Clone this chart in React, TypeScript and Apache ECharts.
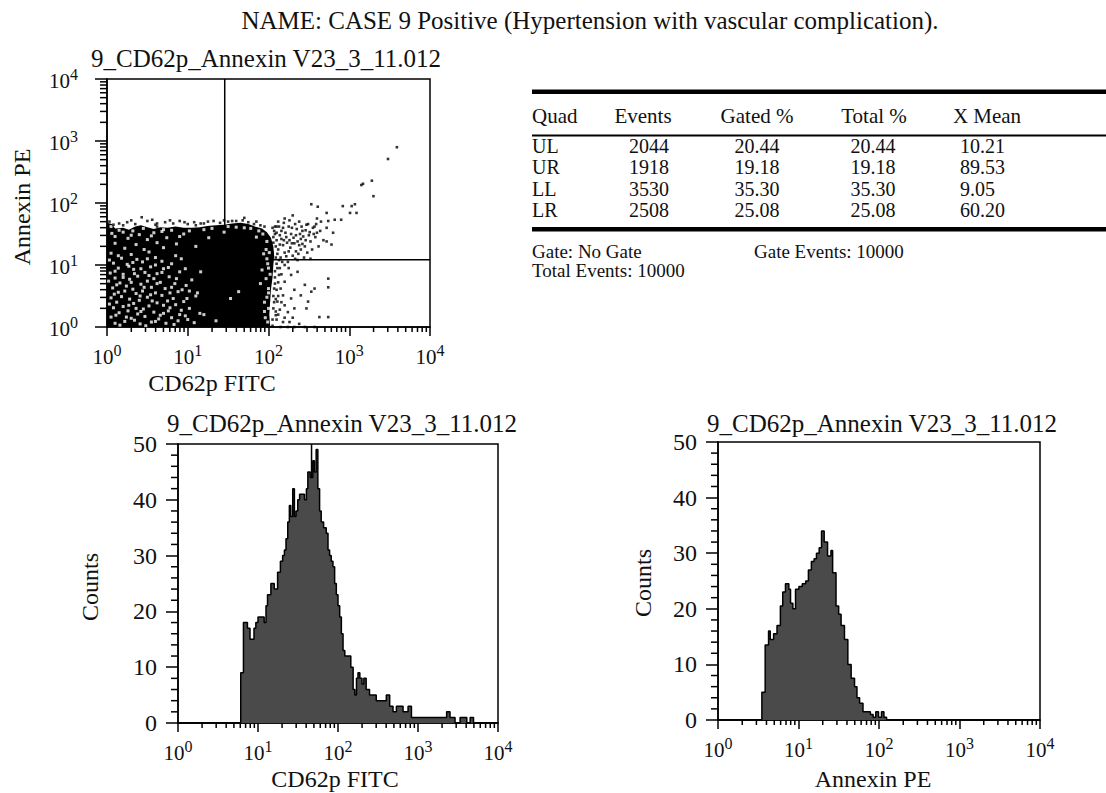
import React, { useEffect, useRef } from 'react';
import * as echarts from 'echarts';

const FONT = "'Liberation Serif', 'Times New Roman', serif";
const INK = '#111111';

const mainTitle = 'NAME: CASE 9 Positive (Hypertension with vascular complication).';
const panelTitle = '9_CD62p_Annexin V23_3_11.012';
const fitcName = 'CD62p FITC';
const peName = 'Annexin PE';
const countsName = 'Counts';

// log axes run over four decades, 10^0 .. 10^4
const decadeMin = 0;
const decadeMax = 4;
const countMax = 50;
const countStep = 10;
const countMinorStep = 2;

// quadrant gates (fluorescence intensity) and histogram marker
const quadrantGateX = 28.7;
const quadrantGateY = 12.1;
const histogramMarker = 46.7;

// statistics table
const tableHeaders = ['Quad', 'Events', 'Gated %', 'Total %', 'X Mean'];
const quadNames = ['UL', 'UR', 'LL', 'LR'];
const quadEvents = ['2044', '1918', '3530', '2508'];
const quadGated = ['20.44', '19.18', '35.30', '25.08'];
const quadTotal = ['20.44', '19.18', '35.30', '25.08'];
const quadXMean = ['10.21', '89.53', '9.05', '60.20'];
const gateText = 'Gate: No Gate';
const gateEventsText = 'Gate Events: 10000';
const totalEventsText = 'Total Events: 10000';

// dot plot: [log10 FITC, log10 PE]
const denseRegionOutline = [
  [0, 0], [0, 1.68], [0.06, 1.66], [0.1, 1.59], [0.2, 1.6], [0.27, 1.57], [0.35, 1.62],
  [0.42, 1.64], [0.5, 1.61], [0.58, 1.58], [0.66, 1.61], [0.75, 1.6], [0.85, 1.62],
  [0.95, 1.6], [1.05, 1.6], [1.15, 1.61], [1.24, 1.63], [1.35, 1.64], [1.45, 1.65],
  [1.55, 1.67], [1.65, 1.68], [1.75, 1.66], [1.83, 1.62], [1.92, 1.59], [1.98, 1.53],
  [2.03, 1.44], [2.06, 1.3], [2.07, 1.15], [2.06, 1.0], [2.05, 0.8], [2.03, 0.6],
  [2.02, 0.4], [2.01, 0.2], [2.02, 0.03], [2.03, 0],
];

const sparseEvents = [
  [0.03, 1.7], [0.15, 1.67], [0.25, 1.69], [0.35, 1.66], [0.43, 1.77], [0.5, 1.71], [0.56, 1.73],
  [0.62, 1.67], [0.72, 1.69], [0.82, 1.67], [0.9, 1.71], [1.0, 1.66], [1.08, 1.69], [1.16, 1.67],
  [1.25, 1.7], [1.32, 1.71], [1.4, 1.68], [1.5, 1.7], [1.6, 1.71], [1.68, 1.72], [1.75, 1.69],
  [1.82, 1.66], [1.9, 1.64], [0.2, 1.64], [0.62, 1.62], [1.1, 1.64],
  [0.08, 1.65], [0.3, 1.72], [0.6, 1.65], [0.78, 1.72], [0.96, 1.69], [1.2, 1.67], [1.45, 1.72],
  [1.55, 1.71], [1.85, 1.7], [1.95, 1.62], [1.7, 1.76],
  [2.08, 1.62], [2.12, 1.7], [2.16, 1.55], [2.2, 1.75], [2.22, 1.45], [2.25, 1.62], [2.28, 1.5],
  [2.3, 1.8], [2.32, 1.35], [2.35, 1.58], [2.38, 1.7], [2.4, 1.42], [2.42, 1.55], [2.45, 1.3],
  [2.47, 1.65], [2.5, 1.48], [2.52, 1.38], [2.55, 1.6], [2.58, 1.45], [2.6, 1.52], [2.62, 1.3],
  [2.65, 1.7], [2.68, 1.4], [2.1, 1.4], [2.12, 1.25], [2.15, 1.12], [2.18, 1.32], [2.2, 1.2],
  [2.24, 1.05], [2.27, 1.28], [2.3, 1.15], [2.34, 1.22], [2.36, 1.08], [2.4, 1.25], [2.44, 1.12],
  [2.48, 1.2], [2.52, 1.1], [2.14, 1.48], [2.18, 1.6], [2.26, 1.4], [2.34, 1.48], [2.38, 1.32],
  [2.46, 1.4], [2.54, 1.25], [2.57, 1.62], [2.6, 1.75], [2.64, 1.55], [2.72, 1.6], [2.74, 1.71],
  [2.8, 1.52], [2.82, 1.73], [2.78, 1.33], [2.72, 1.38], [2.1, 1.02], [2.06, 1.45],
  [2.05, 1.6], [2.1, 1.52], [2.13, 1.62], [2.16, 1.42], [2.19, 1.68], [2.21, 1.52], [2.23, 1.36],
  [2.26, 1.72], [2.29, 1.6], [2.31, 1.44], [2.33, 1.66], [2.36, 1.38], [2.39, 1.5], [2.41, 1.62],
  [2.43, 1.46], [2.46, 1.56], [2.49, 1.66], [2.51, 1.53], [2.56, 1.5], [2.59, 1.66], [2.11, 1.18],
  [2.14, 1.33], [2.17, 1.05], [2.19, 1.4], [2.22, 1.14], [2.25, 1.22], [2.29, 1.35], [2.33, 1.1],
  [2.37, 1.18], [2.42, 1.34], [2.13, 1.08], [2.08, 1.5], [2.1, 1.62], [2.05, 1.2],
  [2.07, 1.55], [2.09, 1.3], [2.11, 0.95], [2.08, 0.8], [2.1, 0.6], [2.07, 0.4], [2.09, 0.25],
  [2.08, 0.7], [2.12, 0.5], [2.06, 0.3], [2.14, 0.28], [2.1, 0.12], [2.05, 0.02],
  [2.06, 1.36], [2.09, 1.12], [2.08, 0.9], [2.07, 0.62], [2.06, 0.5], [2.09, 0.45], [2.05, 0.12],
  [2.12, 0.72], [2.14, 0.95], [2.16, 0.4], [2.12, 0.2], [2.2, 0.15], [2.26, 0.08], [2.3, 0.15],
  [2.38, 0.05], [2.2, 1.0], [2.16, 0.85],
  [2.13, 0.84], [2.2, 0.73], [2.28, 0.84], [2.36, 0.89], [2.45, 0.68], [2.18, 0.51], [2.11, 0.41],
  [2.09, 0.19], [2.18, 0.08], [2.24, 0.24], [2.2, 0.35], [2.28, 0.46], [2.4, 0.51], [2.32, 0.3],
  [2.47, 0.3], [2.49, 0.41], [2.53, 0.57], [2.57, 0.62], [2.74, 0.64], [2.74, 0.78], [2.63, 0.16],
  [2.74, 0.16], [2.24, 0.0], [2.32, 0.0], [2.45, 0.0], [2.57, 0.0], [2.15, 0.0], [2.15, 0.62],
  [2.25, 0.95], [2.32, 0.6],
  [2.53, 1.98], [2.61, 1.94], [2.72, 1.84], [2.92, 1.95], [3.03, 1.95], [3.07, 1.98], [3.01, 1.84],
  [3.09, 1.84], [2.9, 1.73], [3.15, 2.29], [3.17, 2.31], [3.28, 2.36], [3.3, 2.11], [3.48, 2.71],
  [3.59, 2.9],
];

const emptySpots = [
  [0.1, 0.06], [0.22, 0.09], [0.41, 0.05], [0.55, 0.08], [0.73, 0.06], [0.88, 0.1], [1.08, 0.07],
  [0.05, 0.16], [0.3, 0.14], [0.47, 0.17], [0.64, 0.13], [0.8, 0.15], [0.97, 0.18],
  [0.15, 0.23], [0.26, 0.26], [0.38, 0.21], [0.58, 0.24], [0.7, 0.22], [0.92, 0.27], [1.15, 0.22],
  [0.08, 0.31], [0.2, 0.33], [0.45, 0.29], [0.52, 0.34], [0.78, 0.31], [0.85, 0.36], [1.02, 0.3],
  [0.12, 0.4], [0.33, 0.38], [0.4, 0.43], [0.62, 0.39], [0.75, 0.42], [0.95, 0.41],
  [0.05, 0.47], [0.18, 0.49], [0.28, 0.45], [0.5, 0.48], [0.68, 0.51], [0.82, 0.46], [1.1, 0.5],
  [0.14, 0.56], [0.36, 0.54], [0.44, 0.58], [0.6, 0.55], [0.88, 0.57],
  [0.07, 0.63], [0.24, 0.66], [0.32, 0.61], [0.55, 0.64], [0.72, 0.62], [0.98, 0.67],
  [0.16, 0.71], [0.42, 0.69], [0.5, 0.74], [0.66, 0.72], [0.84, 0.7],
  [0.1, 0.79], [0.28, 0.77], [0.38, 0.82], [0.58, 0.78], [0.77, 0.81], [1.05, 0.76],
  [0.04, 0.87], [0.2, 0.85], [0.47, 0.88], [0.62, 0.86], [0.9, 0.89],
  [0.14, 0.95], [0.33, 0.93], [0.54, 0.97], [0.7, 0.94],
  [0.08, 1.03], [0.25, 1.01], [0.44, 1.05], [0.8, 1.02],
  [0.18, 1.11], [0.37, 1.09], [0.6, 1.12], [0.92, 1.1],
  [0.05, 1.19], [0.3, 1.17], [0.52, 1.21],
  [0.22, 1.27], [0.46, 1.25], [0.7, 1.28],
  [0.1, 1.35], [0.36, 1.33], [0.62, 1.36], [0.86, 1.34],
  [0.26, 1.43], [0.5, 1.41], [0.74, 1.44],
  [0.06, 1.51], [0.4, 1.49], [0.58, 1.52], [0.95, 1.5],
  [0.15, 1.56], [0.32, 1.55], [0.68, 1.54],
  [0.16, 0.03], [0.34, 0.11], [0.48, 0.02], [0.66, 0.19], [0.83, 0.04], [1.0, 0.12],
  [0.11, 0.19], [0.24, 0.16], [0.42, 0.25], [0.6, 0.09], [0.76, 0.26], [0.9, 0.2],
  [0.03, 0.37], [0.27, 0.35], [0.36, 0.3], [0.56, 0.42], [0.7, 0.35], [0.99, 0.46],
  [0.09, 0.53], [0.22, 0.58], [0.41, 0.5], [0.54, 0.52], [0.78, 0.55], [0.93, 0.6],
  [0.12, 0.68], [0.3, 0.72], [0.46, 0.64], [0.62, 0.7], [0.8, 0.64], [1.02, 0.58],
  [0.02, 0.74], [0.2, 0.8], [0.34, 0.86], [0.52, 0.83], [0.68, 0.88], [0.86, 0.78],
  [0.1, 0.9], [0.27, 0.98], [0.42, 0.94], [0.6, 1.0], [0.76, 0.96], [0.97, 0.94],
  [0.03, 1.08], [0.14, 1.15], [0.32, 1.04], [0.5, 1.1], [0.68, 1.06], [0.85, 1.15],
  [0.1, 1.46], [0.2, 1.53], [0.45, 1.59], [0.8, 1.56], [1.02, 1.55], [1.3, 1.59], [1.6, 1.61],
  [1.78, 1.59], [1.45, 1.53], [0.9, 1.46], [0.55, 1.47], [0.3, 1.48],
  [1.16, 0.89], [1.26, 1.44], [1.53, 0.46], [1.63, 0.57], [1.2, 0.2], [1.35, 0.1], [1.12, 0.55],
  [1.9, 0.7], [1.95, 0.4], [1.85, 1.45], [1.1, 1.3], [1.98, 1.1], [1.97, 1.25], [2.0, 0.95],
  [1.96, 0.15], [2.0, 0.55],
  [1.93, 1.5], [1.98, 1.38], [2.01, 1.2], [1.99, 1.02], [2.02, 0.85], [1.97, 0.78], [2.0, 0.62],
  [1.98, 0.48], [2.0, 0.3], [1.95, 0.25], [1.99, 0.08], [1.92, 0.92], [1.94, 1.18], [1.88, 1.55],
  [1.7, 1.6], [1.5, 1.62], [1.2, 1.57], [0.7, 1.57], [0.05, 1.62],
];

// CD62p FITC histogram: bin start (log10 intensity) and count
const fitcBinStart = [
  0, 0.784, 0.818, 0.868, 0.9, 0.931, 0.95, 0.973, 1.0, 1.036, 1.077, 1.1, 1.119, 1.161, 1.203,
  1.245, 1.28, 1.308, 1.33, 1.35, 1.372, 1.392, 1.41, 1.434, 1.455, 1.475, 1.497, 1.52, 1.539,
  1.581, 1.605, 1.623, 1.652, 1.685, 1.705, 1.727, 1.748, 1.77, 1.79, 1.82, 1.853, 1.875, 1.895,
  1.915, 1.937, 1.958, 1.979, 2.0, 2.021, 2.042, 2.063, 2.085, 2.126, 2.16, 2.189, 2.21, 2.231,
  2.25, 2.273, 2.3, 2.323, 2.352, 2.394, 2.436, 2.478, 2.52, 2.562, 2.604, 2.646, 2.688, 2.73,
  2.771, 2.813, 2.85, 2.876, 2.918, 2.96, 3.002, 3.065, 3.128, 3.191, 3.254, 3.317, 3.358, 3.4,
  3.463, 3.526, 3.568, 3.61, 3.652, 3.694, 4,
];
const fitcCounts = [
  0, 9, 18, 17, 15, 15, 17, 18, 19, 19, 18, 21, 23, 25, 24,
  27, 29, 30, 31, 33, 36, 39, 37, 42, 37, 38, 40, 41, 41,
  40, 42, 45, 44, 47, 45, 49, 42, 38, 36, 35, 34, 31, 30,
  29, 28, 25, 23, 21, 19, 16, 13, 12, 12, 10, 6, 5, 8,
  9, 8, 7, 8, 6, 5, 5, 4, 4, 4, 5, 3, 2, 3,
  3, 2, 2, 3, 1, 1, 1, 1, 1, 1, 1, 1, 2, 1,
  0, 1, 1, 0, 1, 0, 0,
];

// Annexin PE histogram
const peBinStart = [
  0, 0.545, 0.586, 0.628, 0.649, 0.691, 0.733, 0.775, 0.804, 0.838, 0.88, 0.901, 0.93, 0.963,
  1.005, 1.047, 1.089, 1.123, 1.16, 1.194, 1.223, 1.257, 1.286, 1.319, 1.361, 1.403, 1.424,
  1.466, 1.499, 1.529, 1.571, 1.613, 1.654, 1.696, 1.726, 1.759, 1.801, 1.843, 1.893, 1.927,
  1.96, 1.994, 2.031, 2.061, 2.094, 4,
];
const peCounts = [
  0, 5, 13.5, 16, 14.5, 15.5, 17, 20.5, 23, 24.5, 23.5, 21, 20, 23.5,
  24, 24.5, 25, 27, 28.5, 29, 30, 31, 34, 32, 29.5, 30.5, 26.5,
  20.5, 19, 17, 14.5, 10, 7.5, 6, 4, 3, 1.5, 1.5, 1, 0.5,
  1.5, 0.5, 1.5, 0.5, 0, 0,
];

// minor tick positions (axis decoration)
const minorLogTicks: number[] = [];
for (let d = decadeMin; d < decadeMax; d++) {
  for (let k = 2; k <= 9; k++) minorLogTicks.push(d + Math.log10(k));
}
const minorCountTicks: number[] = [];
for (let c = countMinorStep; c < countMax; c += countMinorStep) {
  if (c % countStep !== 0) minorCountTicks.push(c);
}

const logLabelRich = {
  b: { fontSize: 21, lineHeight: 25, verticalAlign: 'bottom', fontFamily: FONT, color: INK },
  s: { fontSize: 16, lineHeight: 16, verticalAlign: 'top', fontFamily: FONT, color: INK },
};
const logFormatter = (v: number) => `{b|10}{s|${Math.round(v)}}`;
const axisInk = { color: '#000', width: 1.5 };

function logAxis(gridIndex: number, dir: 'x' | 'y', margin: number, majorLen: number) {
  return {
    type: 'value', gridIndex, min: decadeMin, max: decadeMax, interval: 1,
    position: dir === 'x' ? 'bottom' : 'left',
    axisLine: { show: true, onZero: false, lineStyle: axisInk },
    axisTick: { show: true, length: majorLen, lineStyle: axisInk },
    axisLabel: { show: true, margin, formatter: logFormatter, rich: logLabelRich, color: INK },
    splitLine: { show: false },
  };
}

function countAxis(gridIndex: number) {
  return {
    type: 'value', gridIndex, min: 0, max: countMax, interval: countStep, position: 'left',
    axisLine: { show: true, onZero: false, lineStyle: axisInk },
    axisTick: { show: true, length: 12, lineStyle: axisInk },
    axisLabel: { show: true, margin: 21, fontSize: 24, fontFamily: FONT, color: INK },
    splitLine: { show: false },
  };
}

// short minor tick marks placed through the axes' own scales
function minorTicks(axisIndex: number, values: number[], dir: 'x' | 'y', len: number) {
  return {
    type: 'custom', xAxisIndex: axisIndex, yAxisIndex: axisIndex, silent: true, clip: false, z: 6,
    data: values.map((v) => (dir === 'x' ? [v, 0] : [0, v])),
    renderItem: (params: any, api: any) => {
      const p = api.coord([api.value(0), api.value(1)]);
      const shape = dir === 'x'
        ? { x1: p[0], y1: p[1], x2: p[0], y2: p[1] + len }
        : { x1: p[0], y1: p[1], x2: p[0] - len, y2: p[1] };
      return { type: 'line', shape, style: { stroke: '#000', lineWidth: 1.5 } };
    },
  };
}

const zip = (xs: number[], ys: number[]) => xs.map((x, i) => [x, ys[i]]);

function text(x: number, y: number, s: string, size: number, align = 'center', rotation = 0) {
  return {
    type: 'text', x, y, rotation, silent: true,
    style: {
      text: s, fontSize: size, fontFamily: FONT, fill: INK,
      align, verticalAlign: 'middle', textAlign: align, textVerticalAlign: 'middle',
    },
  };
}

function buildTable() {
  const els: any[] = [];
  const left = 532;
  const right = 1106;
  els.push({ type: 'rect', shape: { x: left, y: 89.5, width: right - left, height: 4.5 }, style: { fill: '#000' }, silent: true });
  els.push({ type: 'rect', shape: { x: left, y: 134.5, width: right - left, height: 2 }, style: { fill: '#000' }, silent: true });
  els.push({ type: 'rect', shape: { x: left, y: 227, width: right - left, height: 4.5 }, style: { fill: '#000' }, silent: true });
  const headerX = [532, 643, 757, 874, 987];
  const headerAlign = ['left', 'center', 'center', 'center', 'center'];
  tableHeaders.forEach((h, i) => els.push(text(headerX[i], 116, h, 21, headerAlign[i])));
  const rowY = [145.5, 167, 188.5, 210];
  quadNames.forEach((q, r) => {
    els.push(text(532, rowY[r], q, 20, 'left'));
    els.push(text(649, rowY[r], quadEvents[r], 20, 'center'));
    els.push(text(757, rowY[r], quadGated[r], 20, 'center'));
    els.push(text(873, rowY[r], quadTotal[r], 20, 'center'));
    els.push(text(960, rowY[r], quadXMean[r], 20, 'left'));
  });
  els.push(text(532, 251, gateText, 19, 'left'));
  els.push(text(754, 251, gateEventsText, 19, 'left'));
  els.push(text(532, 270, totalEventsText, 19, 'left'));
  return els;
}

export default function App() {
  const ref = useRef<HTMLDivElement>(null);
  useEffect(() => {
    if (!ref.current) return;
    const chart = echarts.init(ref.current, undefined, { renderer: 'svg' });
    const gx = Math.log10(quadrantGateX);
    const gy = Math.log10(quadrantGateY);
    const hm = Math.log10(histogramMarker);
    const gridStyle = { show: true, borderColor: '#000', borderWidth: 1.5, backgroundColor: '#fff', containLabel: false, outerBoundsMode: 'none' };
    const option: any = {
      animation: false,
      backgroundColor: '#fff',
      textStyle: { fontFamily: FONT, color: INK },
      grid: [
        { ...gridStyle, left: 107, top: 79, width: 323, height: 248 },
        { ...gridStyle, left: 178, top: 444, width: 320, height: 279 },
        { ...gridStyle, left: 718, top: 442, width: 322, height: 278 },
      ],
      xAxis: [logAxis(0, 'x', 15, 9), logAxis(1, 'x', 15, 9), logAxis(2, 'x', 15, 9)],
      yAxis: [logAxis(0, 'y', 29, 12), countAxis(1), countAxis(2)],
      series: [
        {
          type: 'line', xAxisIndex: 0, yAxisIndex: 0, symbol: 'none', silent: true, z: 1,
          data: [[gx, decadeMin], [gx, decadeMax]], lineStyle: { color: '#000', width: 1.5 },
        },
        {
          type: 'line', xAxisIndex: 0, yAxisIndex: 0, symbol: 'none', silent: true, z: 1,
          data: [[decadeMin, gy], [decadeMax, gy]], lineStyle: { color: '#000', width: 1.5 },
        },
        {
          type: 'custom', xAxisIndex: 0, yAxisIndex: 0, silent: true, z: 2,
          data: [denseRegionOutline[0]],
          renderItem: (params: any, api: any) => ({
            type: 'polygon',
            shape: { points: denseRegionOutline.map((p) => api.coord(p)) },
            style: { fill: '#000' },
          }),
        },
        {
          type: 'scatter', xAxisIndex: 0, yAxisIndex: 0, symbol: 'rect', symbolSize: 3, silent: true, z: 3,
          data: emptySpots, itemStyle: { color: '#fff' },
        },
        {
          type: 'scatter', xAxisIndex: 0, yAxisIndex: 0, symbol: 'rect', symbolSize: 2.6, silent: true, z: 4,
          data: sparseEvents, itemStyle: { color: '#000' },
        },
        {
          type: 'line', xAxisIndex: 1, yAxisIndex: 1, symbol: 'none', silent: true, z: 1,
          data: [[hm, 0], [hm, countMax]], lineStyle: { color: '#000', width: 1.5 },
        },
        {
          type: 'line', xAxisIndex: 1, yAxisIndex: 1, symbol: 'none', step: 'end', silent: true, z: 3,
          data: zip(fitcBinStart, fitcCounts),
          lineStyle: { color: '#000', width: 1.5 },
          areaStyle: { color: '#4a4a4a', opacity: 1 },
        },
        {
          type: 'line', xAxisIndex: 2, yAxisIndex: 2, symbol: 'none', step: 'end', silent: true, z: 3,
          data: zip(peBinStart, peCounts),
          lineStyle: { color: '#000', width: 1.5 },
          areaStyle: { color: '#4a4a4a', opacity: 1 },
        },
        minorTicks(0, minorLogTicks, 'x', 5),
        minorTicks(0, minorLogTicks, 'y', 7),
        minorTicks(1, minorLogTicks, 'x', 5),
        minorTicks(2, minorLogTicks, 'x', 5),
        minorTicks(1, minorCountTicks, 'y', 7),
        minorTicks(2, minorCountTicks, 'y', 7),
      ],
      graphic: [
        text(590, 20, mainTitle, 25),
        text(266, 58, panelTitle, 25),
        text(342, 423, panelTitle, 25),
        text(882, 423, panelTitle, 25),
        text(22, 207, peName, 24, 'center', Math.PI / 2),
        text(212, 383, fitcName, 24),
        text(90, 587, countsName, 24, 'center', Math.PI / 2),
        text(643, 583, countsName, 24, 'center', Math.PI / 2),
        text(335, 779, fitcName, 24),
        text(873, 779, peName, 24),
        ...buildTable(),
      ],
    };
    chart.setOption(option);
    return () => chart.dispose();
  }, []);
  return <div ref={ref} style={{ position: 'absolute', left: 0, top: 0, width: 1106, height: 793 }} />;
}
